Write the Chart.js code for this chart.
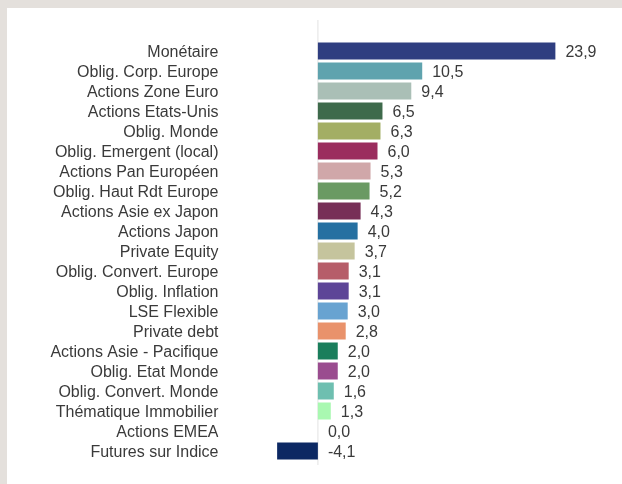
<!DOCTYPE html>
<html>
<head>
<meta charset="utf-8">
<script src="https://cdn.jsdelivr.net/npm/chart.js@4.4.1/dist/chart.umd.min.js"></script>
<style>
    body { margin: 0; background: #e4e0dc; width: 622px; height: 484px; overflow: hidden; }
    #panel { position: absolute; left: 7px; top: 8px; width: 615px; height: 476px; background: #fff; }
</style>
</head>
<body>
<div id="panel"><canvas id="perf" width="615" height="476"></canvas></div>
<script>
// categories (top -> bottom)
var labels = [
    'Monétaire', 'Oblig. Corp. Europe', 'Actions Zone Euro', 'Actions Etats-Unis',
    'Oblig. Monde', 'Oblig. Emergent (local)', 'Actions Pan Européen', 'Oblig. Haut Rdt Europe',
    'Actions Asie ex Japon', 'Actions Japon', 'Private Equity', 'Oblig. Convert. Europe',
    'Oblig. Inflation', 'LSE Flexible', 'Private debt', 'Actions Asie - Pacifique',
    'Oblig. Etat Monde', 'Oblig. Convert. Monde', 'Thématique Immobilier', 'Actions EMEA',
    'Futures sur Indice'
];
// valeurs
var values = [23.9, 10.5, 9.4, 6.5, 6.3, 6.0, 5.3, 5.2, 4.3, 4.0, 3.7, 3.1, 3.1, 3.0, 2.8, 2.0, 2.0, 1.6, 1.3, 0.0, -4.1];
// couleurs des barres
var colors = [
    '#2f3e80', '#5fa3ae', '#aabfb6', '#3e6a4b', '#a3ae64', '#9b2d5e', '#d0a7a9', '#6a9a63',
    '#772f57', '#2570a1', '#c5c49d', '#b65d69', '#5d4597', '#68a3d1', '#e9926b', '#1a7e5c',
    '#9a4c8f', '#6ebfb0', '#a9f8b1', '#cccccc', '#0c2863'
];

var textColor = '#3a3a3a';
var font = { family: '"Liberation Sans", Arial, sans-serif', size: 16 };

// ligne verticale du zero
var zeroLine = {
    id: 'zeroLine',
    beforeDatasetsDraw: function (chart) {
        var ctx = chart.ctx, x = chart.scales.x.getPixelForValue(0);
        ctx.save();
        ctx.strokeStyle = '#ececec';
        ctx.lineWidth = 1.5;
        ctx.beginPath();
        ctx.moveTo(x, chart.chartArea.top - 21);
        ctx.lineTo(x, chart.chartArea.bottom + 4);
        ctx.stroke();
        ctx.restore();
    }
};

// etiquettes de valeurs
var valueLabels = {
    id: 'valueLabels',
    afterDatasetsDraw: function (chart) {
        var ctx = chart.ctx, xs = chart.scales.x, ys = chart.scales.y;
        ctx.save();
        ctx.font = font.size + 'px ' + font.family;
        ctx.fillStyle = textColor;
        ctx.textBaseline = 'middle';
        ctx.textAlign = 'left';
        values.forEach(function (v, i) {
            var x = Math.max(xs.getPixelForValue(v), xs.getPixelForValue(0)) + 10;
            ctx.fillText(v.toFixed(1).replace('.', ','), x, ys.getPixelForValue(i) + 2);
        });
        ctx.restore();
    }
};

new Chart(document.getElementById('perf').getContext('2d'), {
    type: 'bar',
    data: {
        labels: labels,
        datasets: [{
            data: values,
            backgroundColor: colors,
            borderWidth: 0,
            barPercentage: 0.85,
            categoryPercentage: 1
        }]
    },
    options: {
        indexAxis: 'y',
        responsive: false,
        animation: false,
        layout: { padding: { top: 33, bottom: 23, left: 0, right: 6 } },
        plugins: { legend: { display: false }, tooltip: { enabled: false } },
        scales: {
            x: {
                display: false,
                min: -10,
                max: 30
            },
            y: {
                grid: { display: false, drawTicks: false },
                border: { display: false },
                ticks: { color: textColor, font: font, padding: 0, autoSkip: false, labelOffset: 2 },
                afterFit: function (scale) { scale.width = 211.5; }
            }
        }
    },
    plugins: [zeroLine, valueLabels]
});
</script>
</body>
</html>
